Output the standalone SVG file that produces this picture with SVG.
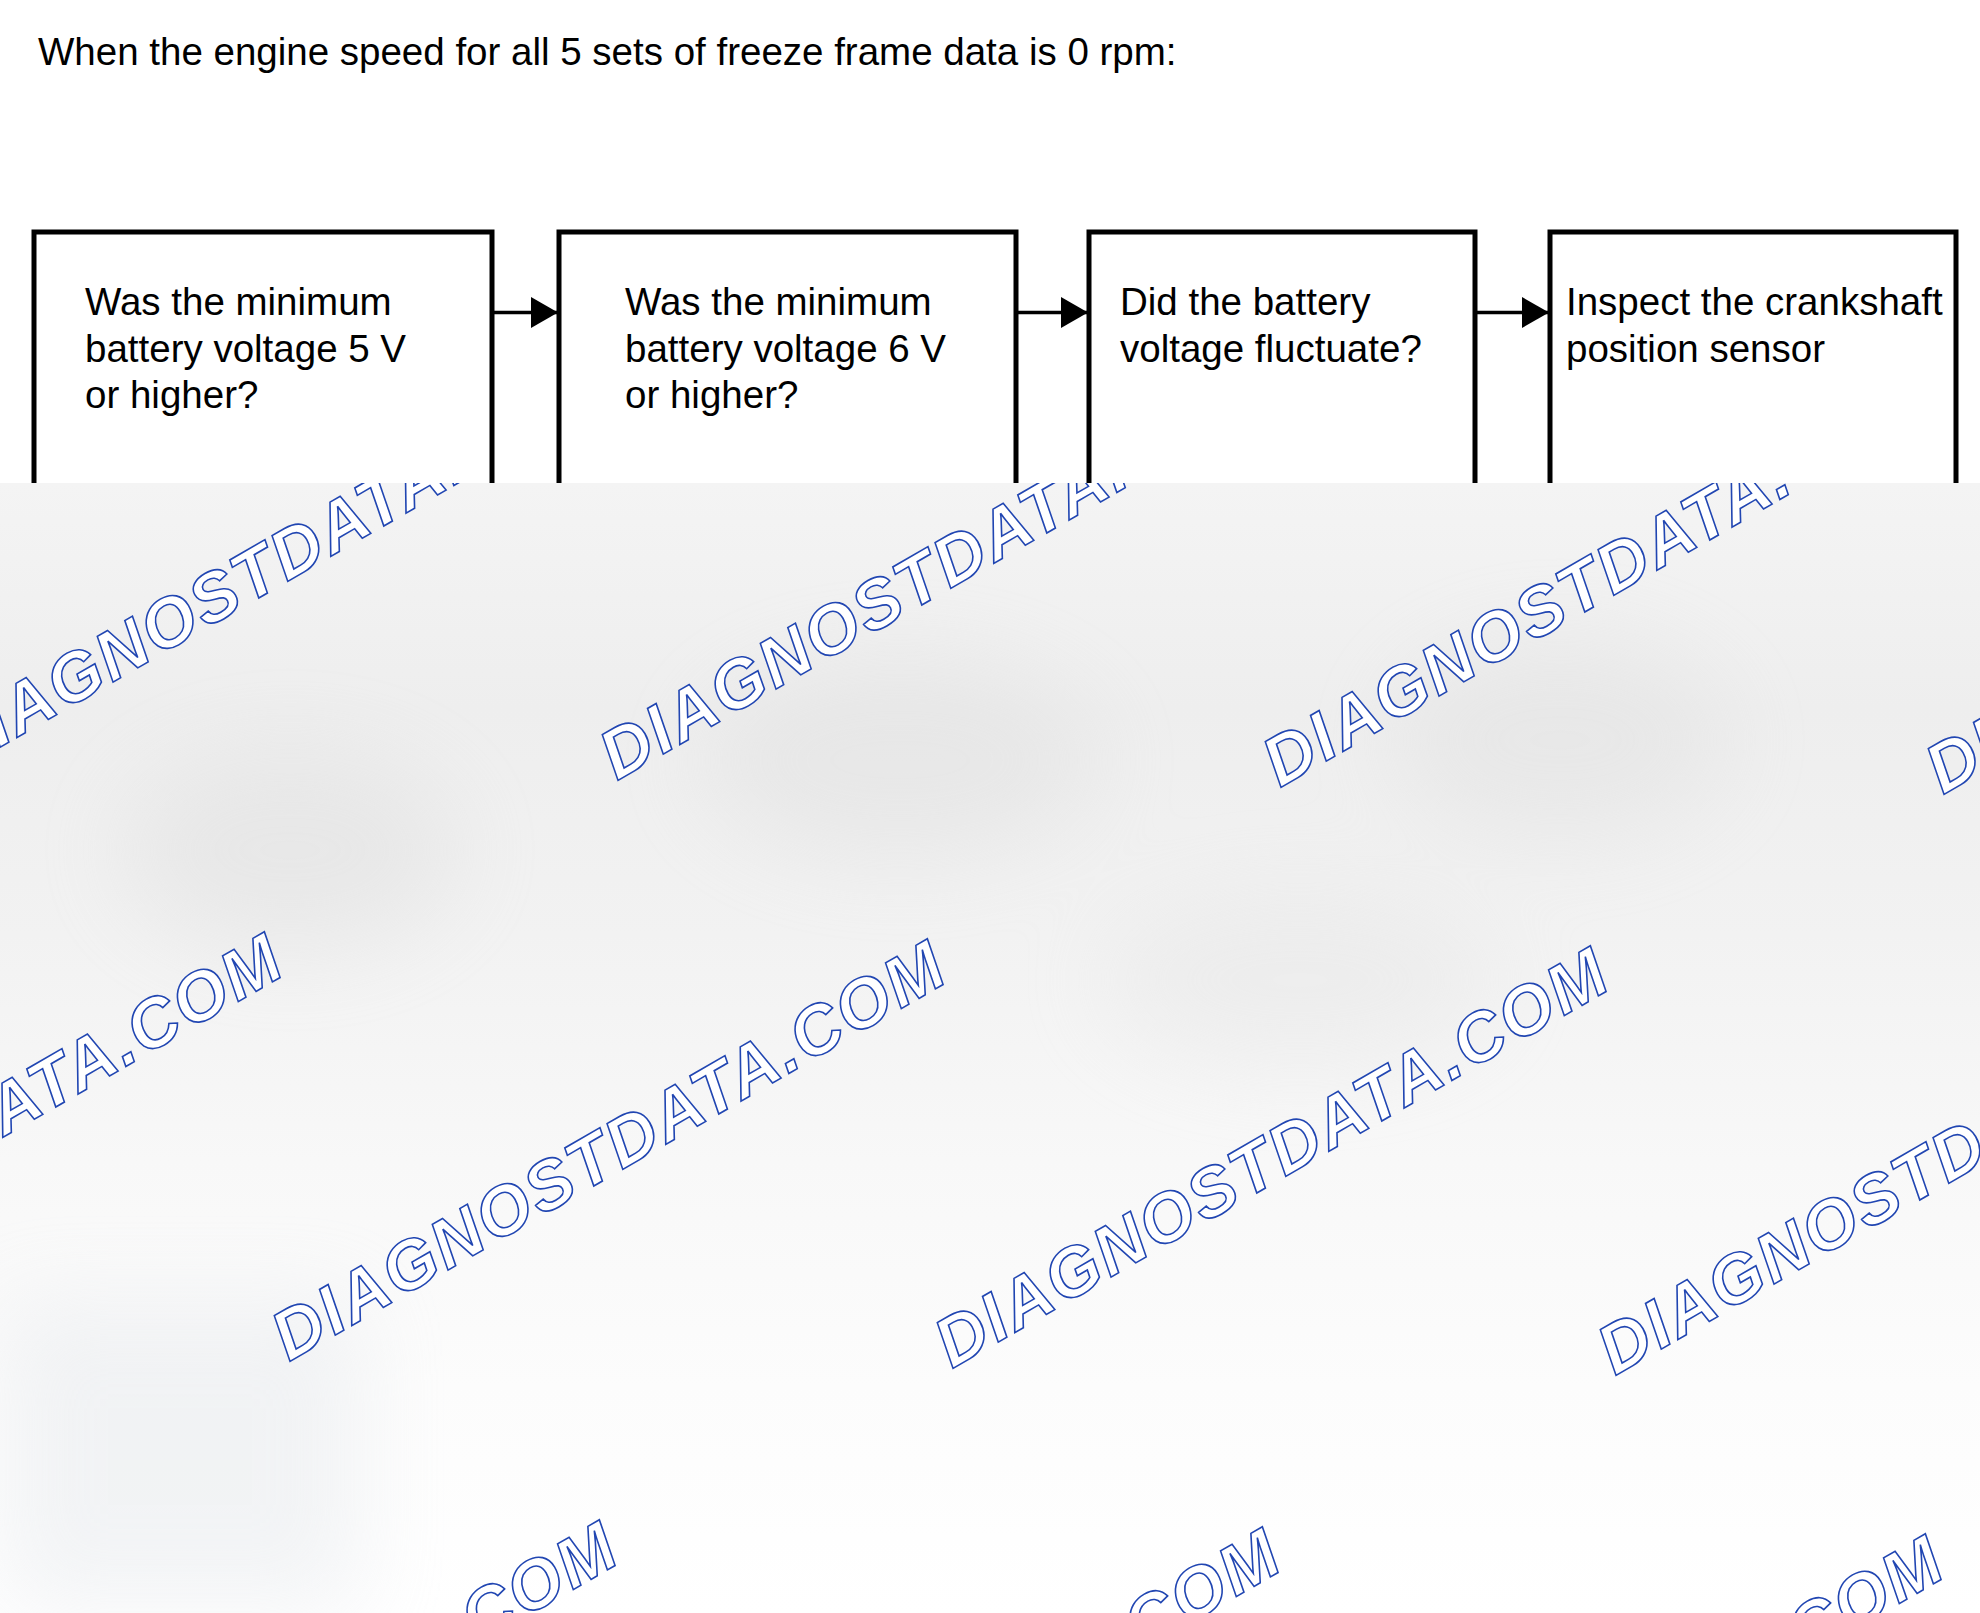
<svg xmlns="http://www.w3.org/2000/svg" width="1980" height="1613" viewBox="0 0 1980 1613">
<style>
.t{font-family:"Liberation Sans",Arial,sans-serif;font-size:38.5px;fill:#000}
.box{fill:#fff;stroke:#000;stroke-width:5}
.conn{stroke:#000;stroke-width:3.5;fill:none}
.wm{font-family:"Liberation Sans",Arial,sans-serif;font-size:69px;font-weight:bold;font-style:italic;letter-spacing:2.5px;fill:#fff;stroke:#2146b2;stroke-width:1.6}
</style>
<defs>
<marker id="ah" viewBox="0 0 27 31" refX="26" refY="15.5" markerWidth="27" markerHeight="31" markerUnits="userSpaceOnUse" orient="auto">
<path d="M0,0 L27,15.5 L0,31 Z" fill="#000"/>
</marker>
<linearGradient id="bg" x1="0" y1="0" x2="0" y2="1">
<stop offset="0" stop-color="#f4f4f4"/>
<stop offset="0.2" stop-color="#eeeeee"/>
<stop offset="0.4" stop-color="#f2f2f2"/>
<stop offset="0.6" stop-color="#f8f8f8"/>
<stop offset="0.8" stop-color="#fcfcfc"/>
<stop offset="1" stop-color="#ffffff"/>
</linearGradient>
<filter id="blur" x="-50%" y="-50%" width="200%" height="200%"><feGaussianBlur stdDeviation="45"/></filter>
<clipPath id="ov"><rect x="0" y="483" width="1980" height="1130"/></clipPath>
</defs>
<rect x="0" y="0" width="1980" height="1613" fill="#fff"/>
<text class="t" x="38" y="65">When the engine speed for all 5 sets of freeze frame data is 0 rpm:</text>
<g id="connectors">
<line class="conn" x1="494" y1="312.5" x2="557" y2="312.5" marker-end="url(#ah)"/>
<line class="conn" x1="1018" y1="312.5" x2="1087" y2="312.5" marker-end="url(#ah)"/>
<line class="conn" x1="1477" y1="312.5" x2="1548" y2="312.5" marker-end="url(#ah)"/>
</g>
<g id="node1">
<rect class="box" x="34" y="232" width="458" height="420"/>
<text class="t" x="85" y="315">Was the minimum</text>
<text class="t" x="85" y="361.5">battery voltage 5 V</text>
<text class="t" x="85" y="408">or higher?</text>
</g>
<g id="node2">
<rect class="box" x="559" y="232" width="457" height="420"/>
<text class="t" x="625" y="315">Was the minimum</text>
<text class="t" x="625" y="361.5">battery voltage 6 V</text>
<text class="t" x="625" y="408">or higher?</text>
</g>
<g id="node3">
<rect class="box" x="1089" y="232" width="386" height="420"/>
<text class="t" x="1120" y="315">Did the battery</text>
<text class="t" x="1120" y="361.5">voltage fluctuate?</text>
</g>
<g id="node4">
<rect class="box" x="1550" y="232" width="406" height="420"/>
<text class="t" x="1566" y="315">Inspect the crankshaft</text>
<text class="t" x="1566" y="361.5">position sensor</text>
</g>
<g id="overlay" clip-path="url(#ov)">
<rect x="0" y="483" width="1980" height="1130" fill="url(#bg)"/>
<g filter="url(#blur)" opacity="0.35">
<ellipse cx="290" cy="850" rx="170" ry="100" fill="#d8d8d8"/>
<ellipse cx="900" cy="760" rx="200" ry="100" fill="#dadada"/>
<ellipse cx="1560" cy="740" rx="170" ry="100" fill="#dcdcdc"/>
<ellipse cx="1300" cy="980" rx="200" ry="90" fill="#e2e2e2"/>
<rect x="0" y="1300" width="360" height="313" fill="#dde1e6"/>
</g>
<g id="watermark">
<text class="wm" transform="translate(-46,774) rotate(-30)">DIAGNOSTDATA.COM</text>
<text class="wm" transform="translate(617,781) rotate(-30)">DIAGNOSTDATA.COM</text>
<text class="wm" transform="translate(1280,788) rotate(-30)">DIAGNOSTDATA.COM</text>
<text class="wm" transform="translate(1943,795) rotate(-30)">DIAGNOSTDATA.COM</text>
<text class="wm" transform="translate(-374,1355) rotate(-30)">DIAGNOSTDATA.COM</text>
<text class="wm" transform="translate(289,1362) rotate(-30)">DIAGNOSTDATA.COM</text>
<text class="wm" transform="translate(952,1369) rotate(-30)">DIAGNOSTDATA.COM</text>
<text class="wm" transform="translate(1615,1376) rotate(-30)">DIAGNOSTDATA.COM</text>
<text class="wm" transform="translate(-39,1943) rotate(-30)">DIAGNOSTDATA.COM</text>
<text class="wm" transform="translate(624,1950) rotate(-30)">DIAGNOSTDATA.COM</text>
<text class="wm" transform="translate(1287,1957) rotate(-30)">DIAGNOSTDATA.COM</text>
</g>
</g>
</svg>
